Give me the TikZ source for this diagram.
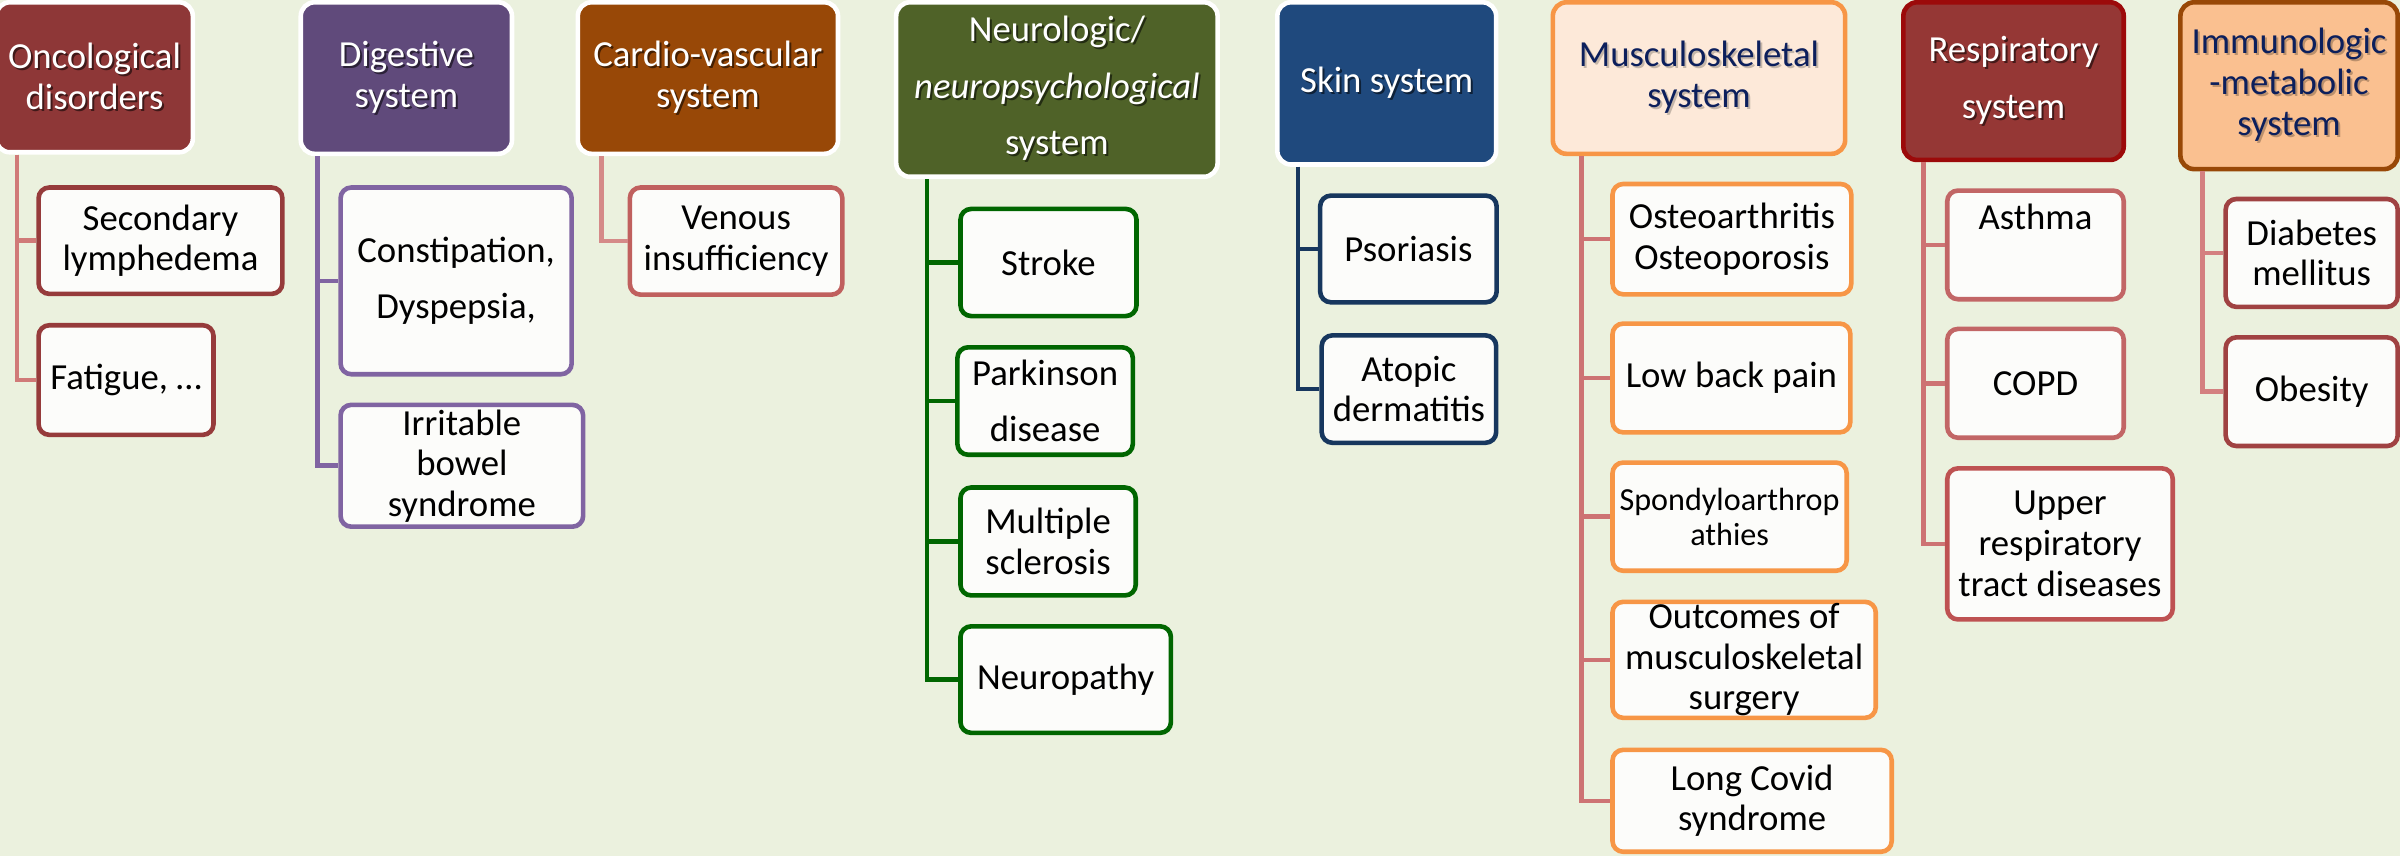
\documentclass[tikz,border=0pt]{standalone}
\usepackage{fontspec}
\setmainfont{Carlito}
\definecolor{bg}{HTML}{EBF1DE}
\definecolor{cfill}{HTML}{FCFCFA}
\definecolor{oncF}{HTML}{8E3737}
\definecolor{oncL}{HTML}{D07A78}
\definecolor{oncB}{HTML}{963B3B}
\definecolor{digF}{HTML}{604A7B}
\definecolor{digL}{HTML}{8064A2}
\definecolor{carF}{HTML}{984807}
\definecolor{carL}{HTML}{D58A88}
\definecolor{carB}{HTML}{C0605E}
\definecolor{neuF}{HTML}{4F6228}
\definecolor{neuL}{HTML}{006600}
\definecolor{skiF}{HTML}{1F497D}
\definecolor{skiL}{HTML}{17375E}
\definecolor{musF}{HTML}{FDE9D9}
\definecolor{musB}{HTML}{F79646}
\definecolor{musL}{HTML}{CD7373}
\definecolor{navy}{HTML}{0C1F5C}
\definecolor{resF}{HTML}{953735}
\definecolor{resB}{HTML}{9C0A0A}
\definecolor{resL}{HTML}{CD7373}
\definecolor{resC}{HTML}{C26666}
\definecolor{resD}{HTML}{BE5252}
\definecolor{immF}{HTML}{FAC090}
\definecolor{immB}{HTML}{984807}
\definecolor{immL}{HTML}{D48080}
\definecolor{immC}{HTML}{A04242}
\newcommand\shd[2]{\leavevmode\rlap{\kern1.3pt\raisebox{-1.3pt}{\textcolor{#1}{#2}}}#2}
\newcommand\bx[7]{\node[#2, minimum width={(#5)-(#3)-3}, minimum height={(#6)-(#4)-3}] (#1) at ({((#3)+(#5))/2},{((#4)+(#6))/2}) {#7};}
\tikzset{
  hdr/.style={line width=3pt, rounded corners=9pt, inner sep=0pt, align=center,
    font=\fontsize{24}{26.5}\selectfont},
  wide/.style={font=\fontsize{24}{37}\selectfont},
  child/.style={draw, fill=cfill, line width=3pt, rounded corners=7pt, inner sep=0pt,
    align=center, text=black, font=\fontsize{24}{26.5}\selectfont},
  small/.style={font=\fontsize{21}{23}\selectfont},
  link/.style={line width=3pt}
}
\begin{document}
\begin{tikzpicture}[x=1pt,y=-1pt]
\fill[bg] (0,0) rectangle (1568,559);
\useasboundingbox (0,0) rectangle (1568,559);
% headers
\bx{onc}{hdr,draw=white,fill=oncF,text=white}{-4}{0}{127.5}{101}{\shd{black!55!oncF}{Oncological}\\\shd{black!55!oncF}{disorders}}
\bx{dig}{hdr,draw=white,fill=digF,text=white}{195}{0}{336}{102}{\shd{black!55!digF}{Digestive}\\\shd{black!55!digF}{system}}
\bx{car}{hdr,draw=white,fill=carF,text=white}{376}{0}{549}{102}{\shd{black!55!carF}{Cardio-vascular}\\\shd{black!55!carF}{system}}
\bx{neu}{hdr,wide,draw=white,fill=neuF,text=white}{584}{0}{797}{117}{\shd{black!55!neuF}{Neurologic/}\\\shd{black!55!neuF}{\textit{neuropsychological}}\\\shd{black!55!neuF}{system}}
\bx{ski}{hdr,draw=white,fill=skiF,text=white}{833}{0}{979}{109}{\shd{black!55!skiF}{Skin system}}
\bx{mus}{hdr,draw=musB,fill=musF,text=navy}{1013}{0}{1207}{102}{\shd{black!22!musF}{Musculoskeletal}\\\shd{black!22!musF}{system}}
\bx{res}{hdr,wide,draw=resB,fill=resF,text=white}{1242}{0}{1389}{106}{\shd{black!55!resF}{Respiratory}\\\shd{black!55!resF}{system}}
\bx{imm}{hdr,draw=immB,fill=immF,text=navy}{1423}{0}{1568}{112}{\shd{black!25!immF}{Immunologic}\\\shd{black!25!immF}{-metabolic}\\\shd{black!25!immF}{system}}
% children
\bx{onc1}{child,draw=oncB}{23.7}{121}{186}{193.5}{Secondary\\lymphedema}
\bx{onc2}{child,draw=oncB}{23.7}{211}{141}{285.6}{Fatigue, …}
\bx{dig1}{child,wide,draw=digL}{221}{121}{375}{246}{Constipation,\\Dyspepsia,}
\bx{dig2}{child,draw=digL}{221}{263}{382.5}{345.6}{Irritable\\bowel\\syndrome}
\bx{car1}{child,draw=carB}{410}{121}{551.8}{194}{Venous\\insufficiency}
\bx{neu1}{child,draw=neuL}{626}{135}{744}{208}{Stroke}
\bx{neu2}{child,wide,draw=neuL}{624}{225.4}{741.6}{298.6}{Parkinson\\disease}
\bx{neu3}{child,draw=neuL}{626}{317}{743.5}{390.5}{Multiple\\sclerosis}
\bx{neu4}{child,draw=neuL}{626}{407.7}{766.5}{480.3}{Neuropathy}
\bx{ski1}{child,draw=skiL}{861}{126.3}{979.3}{199}{Psoriasis}
\bx{ski2}{child,draw=skiL}{862}{217.6}{979}{290.8}{Atopic\\dermatitis}
\bx{mus1}{child,draw=musB}{1052}{118.7}{1211}{193.8}{Osteoarthritis\\Osteoporosis}
\bx{mus2}{child,draw=musB}{1052}{209.9}{1210.4}{284}{Low back pain}
\bx{mus3}{child,small,draw=musB}{1052}{300.7}{1208}{374.4}{Spondyloarthrop\\athies}
\bx{mus4}{child,draw=musB}{1052}{391.7}{1227}{470.5}{Outcomes of\\musculoskeletal\\surgery}
\bx{mus5}{child,draw=musB}{1052}{488.4}{1237.4}{558}{Long Covid\\syndrome}
\bx{res1}{child,wide,draw=resC}{1270.7}{123}{1389}{197}{Asthma\\\mbox{}}
\bx{res2}{child,draw=resC}{1270.7}{213.4}{1389}{287.5}{COPD}
\bx{res3}{child,draw=resD}{1270.7}{304.5}{1421}{406.2}{Upper\\respiratory\\tract diseases}
\bx{imm1}{child,draw=immC}{1452.6}{128.5}{1568}{202}{Diabetes\\mellitus}
\bx{imm2}{child,draw=immC}{1452.6}{218.9}{1568}{292.9}{Obesity}
% connectors
\draw[link,oncL] ([xshift=15pt]onc.south west) |- (onc1.west);
\draw[link,oncL] ([xshift=15pt]onc.south west) |- (onc2.west);
\draw[link,digL] ([xshift=12.6pt]dig.south west) |- (dig1.west);
\draw[link,digL] ([xshift=12.6pt]dig.south west) |- (dig2.west);
\draw[link,carL] ([xshift=17pt]car.south west) |- (car1.west);
\foreach \c in {neu1,neu2,neu3,neu4}
  \draw[link,neuL] ([xshift=21.5pt]neu.south west) |- (\c.west);
\foreach \c in {ski1,ski2}
  \draw[link,skiL] ([xshift=15pt]ski.south west) |- (\c.west);
\foreach \c in {mus1,mus2,mus3,mus4,mus5}
  \draw[link,musL] ([xshift=20.4pt]mus.south west) |- (\c.west);
\foreach \c in {res1,res2,res3}
  \draw[link,resL] ([xshift=14.6pt]res.south west) |- (\c.west);
\foreach \c in {imm1,imm2}
  \draw[link,immL] ([xshift=15.8pt]imm.south west) |- (\c.west);
\end{tikzpicture}
\end{document}
